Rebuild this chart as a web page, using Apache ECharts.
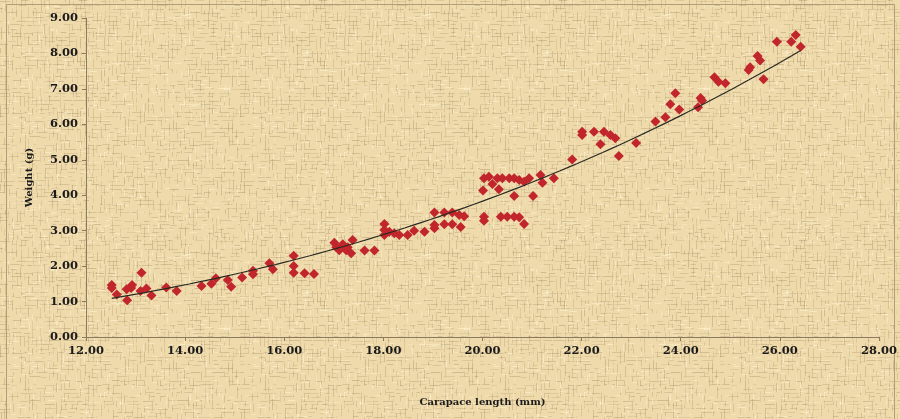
<!DOCTYPE html>
<html>
<head>
<meta charset="utf-8">
<script src="https://cdn.jsdelivr.net/npm/echarts@6/dist/echarts.min.js"></script>
<style>
html,body{margin:0;padding:0;background:#f1dcaf;}
#chart{width:900px;height:419px;}
</style>
</head>
<body>
<div id="chart"></div>
<script>
// ---- Data ----
const carapaceLength = [
  12.52,12.52,12.62,12.83,12.82,12.93,12.91,13.12,13.10,13.22,13.32,13.62,13.83,14.33,14.53,14.62,14.86,
  14.93,15.15,15.37,15.37,15.70,15.77,16.19,16.19,16.19,16.41,16.60,
  17.01,17.05,17.18,17.28,17.38,17.25,17.35,17.11,17.62,17.82,
  18.02,18.02,18.02,18.12,18.22,18.32,18.49,18.62,18.83,
  19.03,19.03,19.03,19.23,19.39,19.23,19.39,19.56,19.53,19.63,
  20.03,20.01,20.13,20.20,20.30,20.33,20.40,20.54,20.64,20.74,20.84,20.94,21.17,21.21,21.44,20.64,21.02,
  20.03,20.03,20.37,20.50,20.64,20.74,20.84,
  21.81,22.01,22.01,22.25,22.45,22.58,22.68,22.38,22.75,23.10,
  23.49,23.69,23.79,23.89,23.97,24.35,24.40,24.43,24.68,24.76,24.90,
  25.37,25.40,25.55,25.60,25.67,25.94,26.23,26.32,26.42
];
const weight = [
  1.47,1.38,1.20,1.04,1.35,1.47,1.38,1.81,1.30,1.37,1.17,1.40,1.30,1.44,1.50,1.66,1.61,
  1.42,1.68,1.87,1.77,2.08,1.91,2.29,2.00,1.81,1.80,1.78,
  2.66,2.53,2.62,2.53,2.74,2.45,2.36,2.45,2.44,2.44,
  3.19,3.02,2.88,2.97,2.93,2.88,2.88,3.00,2.97,
  3.51,3.16,3.07,3.51,3.51,3.18,3.18,3.10,3.44,3.41,
  4.48,4.13,4.52,4.32,4.48,4.17,4.48,4.48,4.48,4.43,4.38,4.48,4.57,4.35,4.48,3.98,3.98,
  3.39,3.28,3.39,3.39,3.39,3.38,3.19,
  5.01,5.79,5.70,5.79,5.79,5.70,5.61,5.44,5.11,5.47,
  6.08,6.20,6.57,6.88,6.42,6.48,6.74,6.67,7.33,7.20,7.16,
  7.53,7.61,7.93,7.80,7.27,8.33,8.33,8.52,8.19
];
const xTicks = { min: 12, max: 28, step: 2 };
const yTicks = { min: 0, max: 9, step: 1 };
const xTitle = 'Carapace length (mm)';
const yTitle = 'Weight (g)';

// ---- points and power trendline (least squares on log-log, like a spreadsheet power fit) ----
const points = carapaceLength.map((x, i) => [x, weight[i]]);
let sx=0, sy=0, sxx=0, sxy=0, n=points.length;
points.forEach(([x,y]) => { const lx=Math.log(x), ly=Math.log(y); sx+=lx; sy+=ly; sxx+=lx*lx; sxy+=lx*ly; });
const b = (n*sxy - sx*sy) / (n*sxx - sx*sx);
const a = Math.exp((sy - b*sx)/n);
const xMin = Math.min(...carapaceLength), xMax = Math.max(...carapaceLength);
const trend = [];
for (let i = 0; i <= 80; i++) { const x = xMin + (xMax - xMin) * i / 80; trend.push([x, a * Math.pow(x, b)]); }

// ---- woven parchment texture (styling only) ----
function makeTexture(){
  const W = 240, H = 240;
  const c = document.createElement('canvas'); c.width = W; c.height = H;
  const g = c.getContext('2d');
  g.fillStyle = '#efdaac'; g.fillRect(0,0,W,H);
  let s = 98765; const rnd = () => { s = (s * 1103515245 + 12345) & 0x7fffffff; return s / 0x7fffffff; };
  const thread = () => 'rgba(168,142,98,' + (0.16 + rnd()*0.26) + ')';
  for (let y = 0; y < H; y += 4) {
    let x = 0;
    while (x < W) {
      const len = 2 + rnd()*10;
      if (rnd() < 0.55) { g.fillStyle = thread(); g.fillRect(x, y + Math.floor(rnd()*2), len, 1); }
      x += len + rnd()*5;
    }
  }
  for (let x = 0; x < W; x += 4) {
    let y = 0;
    while (y < H) {
      const len = 2 + rnd()*10;
      if (rnd() < 0.55) { g.fillStyle = thread(); g.fillRect(x + Math.floor(rnd()*2), y, 1, len); }
      y += len + rnd()*5;
    }
  }
  for (let i = 0; i < 800; i++) {
    const x = Math.floor(rnd()*W), y = Math.floor(rnd()*H), len = 2 + rnd()*6;
    g.fillStyle = 'rgba(255,245,215,' + (0.25 + rnd()*0.35) + ')';
    if (rnd() < 0.5) g.fillRect(x, y, len, 1); else g.fillRect(x, y, 1, len);
  }
  return c;
}

const fontFam = '"DejaVu Serif", "Liberation Serif", serif';
const chart = echarts.init(document.getElementById('chart'), null, { renderer: 'canvas' });
chart.setOption({
  backgroundColor: { image: makeTexture(), repeat: 'repeat' },
  animation: false,
  grid: { left: 86, right: 19, top: 18, bottom: 82, containLabel: false },
  xAxis: {
    type: 'value', min: xTicks.min, max: xTicks.max, interval: xTicks.step,
    name: xTitle, nameLocation: 'middle', nameGap: 60,
    nameTextStyle: { fontFamily: fontFam, fontWeight: 'bold', fontSize: 10, color: '#1a1a1a' },
    axisLine: { show: true, lineStyle: { color: '#8a7a60', width: 1 } },
    axisTick: { show: true, length: 4, lineStyle: { color: '#8a7a60' } },
    axisLabel: { formatter: v => v.toFixed(2), fontFamily: fontFam, fontWeight: 'bold', fontSize: 11.5, color: '#1a1a1a', margin: 8 },
    splitLine: { show: false }
  },
  yAxis: {
    type: 'value', min: yTicks.min, max: yTicks.max, interval: yTicks.step,
    name: yTitle, nameLocation: 'middle', nameGap: 52,
    nameTextStyle: { fontFamily: fontFam, fontWeight: 'bold', fontSize: 10, color: '#1a1a1a' },
    axisLine: { show: true, lineStyle: { color: '#8a7a60', width: 1 } },
    axisTick: { show: true, length: 4, lineStyle: { color: '#8a7a60' } },
    axisLabel: { formatter: v => v.toFixed(2), fontFamily: fontFam, fontWeight: 'bold', fontSize: 11.5, color: '#1a1a1a', margin: 8 },
    splitLine: { show: false }
  },
  graphic: [{
    type: 'rect', shape: { x: 6.5, y: 4.5, width: 888, height: 430 },
    style: { fill: 'none', stroke: '#b09e78', lineWidth: 1 }, silent: true, z: -1
  }],
  series: [
    {
      type: 'scatter', data: points, symbol: 'diamond', symbolSize: [10, 10],
      itemStyle: { color: '#c0262b', opacity: 1 }, z: 2
    },
    {
      type: 'line', data: trend, showSymbol: false, smooth: false,
      lineStyle: { color: '#2a2a22', width: 1.2 }, z: 3
    }
  ]
});
</script>
</body>
</html>
